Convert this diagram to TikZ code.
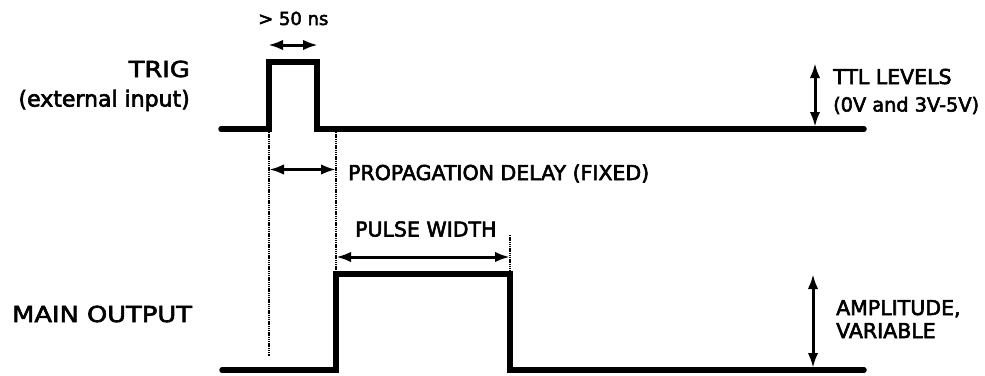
\documentclass[tikz,border=0pt]{standalone}
\usepackage{fontspec}
\setmainfont{DejaVu Sans}[RawFeature={embolden=2.8}]
\newfontfamily\widefont{DejaVu Sans}[FakeStretch=1.17,RawFeature={embolden=2.8}]
\usetikzlibrary{arrows.meta}
\begin{document}
\begin{tikzpicture}[x=1pt,y=-1pt,
  wave/.style={line width=5.5pt,line join=miter,line cap=round,black},
  dim/.style={line width=3pt,{Latex[length=15pt,width=10.5pt]}-{Latex[length=15pt,width=10.5pt]}},
  guide/.style={line width=2.3pt,dash pattern=on 1.3pt off 0.9pt},
  biglabel/.style={inner sep=0pt,font=\fontsize{22}{26}\selectfont},
  bigcaps/.style={inner sep=0pt,font=\widefont\fontsize{22}{26}\selectfont},
  smalllabel/.style={inner sep=0pt,font=\fontsize{20.5}{24}\selectfont}]
\useasboundingbox (0,0) rectangle (985,375);
% waveform points
\coordinate (t0) at (221,129);
\coordinate (t1) at (269,129);
\coordinate (t2) at (269,62);
\coordinate (t3) at (317,62);
\coordinate (t4) at (317,129);
\coordinate (t5) at (864,129);
\coordinate (m0) at (222,370);
\coordinate (m1) at (336,370);
\coordinate (m2) at (336,274);
\coordinate (m3) at (510,274);
\coordinate (m4) at (510,370);
\coordinate (m5) at (864,370);
\draw[wave] (t0) -- (t1) -- (t2) -- (t3) -- (t4) -- (t5);
\draw[wave] (m0) -- (m1) -- (m2) -- (m3) -- (m4) -- (m5);
% guides
\coordinate (g1a) at (269,132);
\coordinate (g1b) at (269,356);
\coordinate (g2a) at (336,132);
\coordinate (g3a) at (510,235);
\draw[guide] (g1a) -- (g1b);
\draw[guide] (g2a) -- (m2);
\draw[guide] (g3a) -- (m3);
% dimension arrows
\coordinate (w1) at (268,45);
\coordinate (w2) at (318,45);
\draw[dim] (w1) -- (w2);
\coordinate (p1) at (269,169.5);
\coordinate (p2) at (336,169.5);
\draw[dim] (p1) -- (p2);
\coordinate (pw1) at (336,257);
\coordinate (pw2) at (510,257);
\draw[dim] (pw1) -- (pw2);
\coordinate (ttl1) at (815,63);
\coordinate (ttl2) at (815,127);
\draw[dim] (ttl1) -- (ttl2);
\coordinate (am1) at (813,274);
\coordinate (am2) at (813,368);
\draw[dim] (am1) -- (am2);
% labels
\node[bigcaps,anchor=base east] (trig) at (190,77) {TRIG};
\node[biglabel,anchor=base east] (ext) at (190,106.5) {(external input)};
\node[bigcaps,anchor=base west] (main) at (12,322) {MAIN OUTPUT};
\node[smalllabel,anchor=base west,font=\fontsize{18}{22}\selectfont] (ns) at (258,25) {> 50 ns};
\node[smalllabel,anchor=base west] (prop) at (348,180) {PROPAGATION DELAY (FIXED)};
\node[smalllabel,anchor=base west] (pw) at (355,236.5) {PULSE WIDTH};
\node[smalllabel,anchor=base west] (ttl) at (833,84) {TTL LEVELS};
\node[smalllabel,anchor=base west,font=\fontsize{19.3}{22}\selectfont] (ttlv) at (833,111.5) {(0V and 3V-5V)};
\node[smalllabel,anchor=base west] (amp) at (836,315) {AMPLITUDE,};
\node[smalllabel,anchor=base west] (var) at (836,338) {VARIABLE};
\end{tikzpicture}
\end{document}
